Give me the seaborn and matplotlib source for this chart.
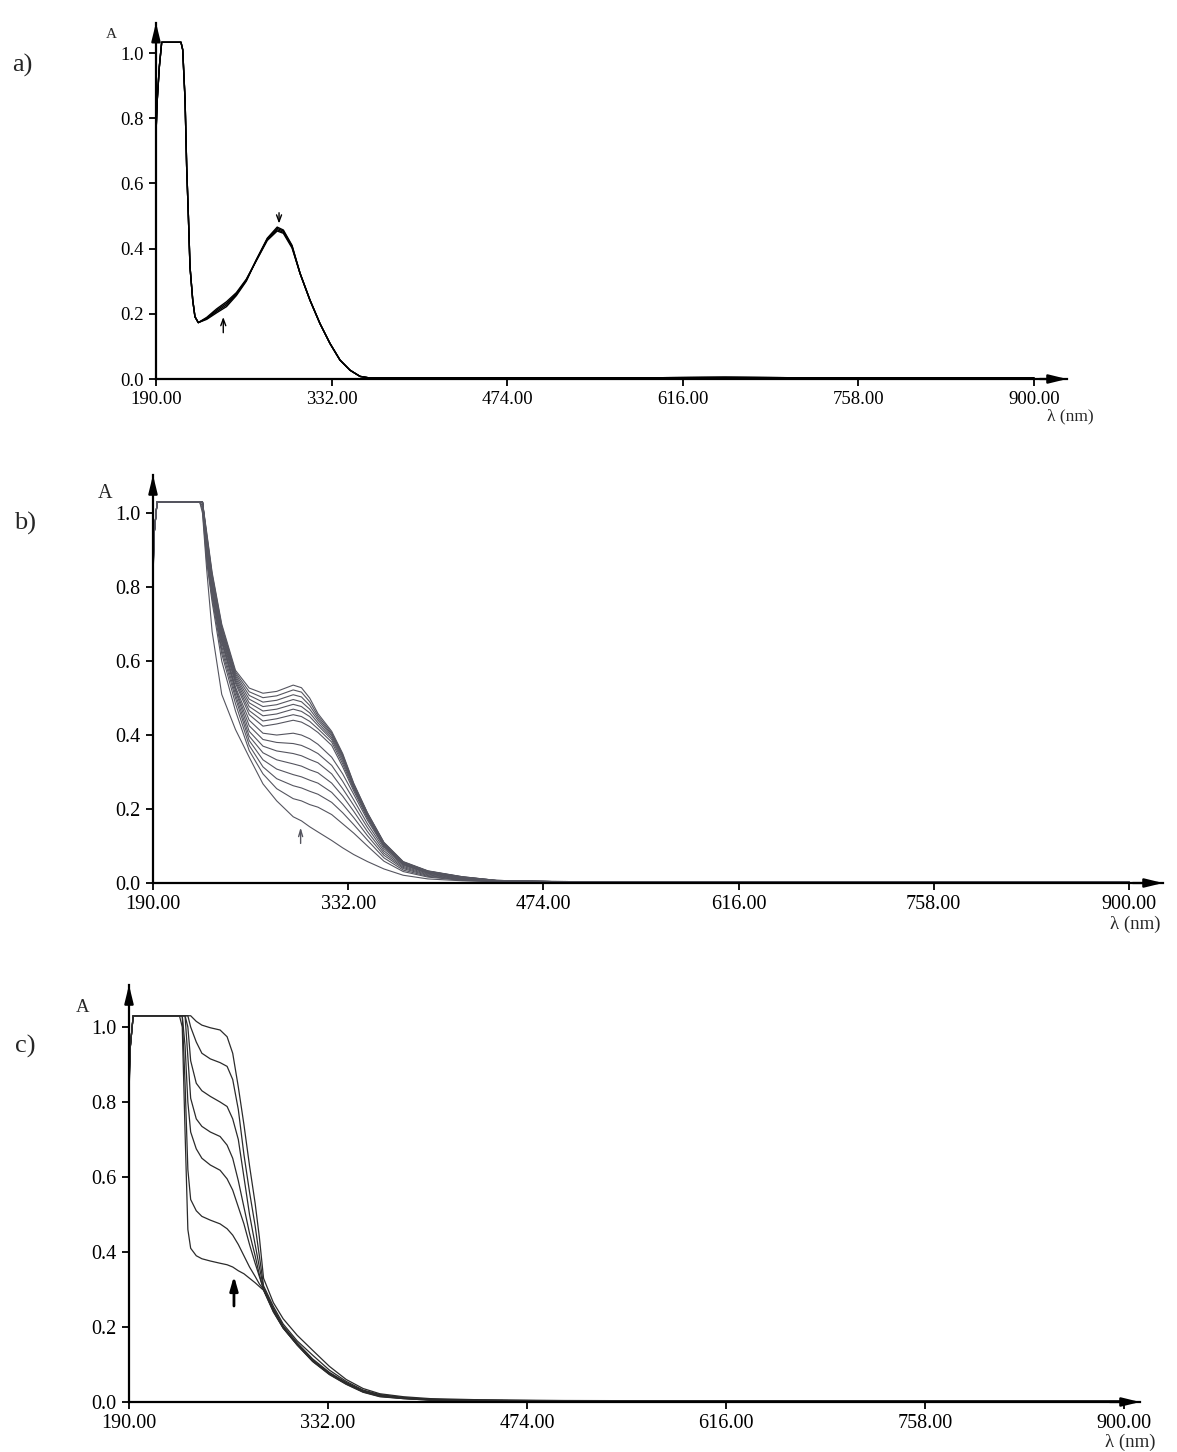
import matplotlib
matplotlib.use("Agg")
import matplotlib.pyplot as plt
import pandas as pd
import seaborn as sns

# ---------------- panel a: wavelength (nm) and absorbance, 4 overlapping scans
wl_a = [190, 191, 192.7, 194.6, 210.2, 211.6, 213.5, 214.8, 216.2, 217.5,
        219.7, 221.5, 224.2, 231, 239, 247, 255, 263, 271, 280,
        288, 293, 300, 306.5, 314.5, 322.6, 330.7, 338.8, 346.9, 355,
        363, 450, 600, 650, 750, 900]
a_scan1 = [0.754, 0.856, 0.958, 1.033, 1.033, 1.010, 0.856, 0.651, 0.498, 0.344,
           0.242, 0.191, 0.173, 0.183, 0.203, 0.222, 0.256, 0.300, 0.365, 0.432,
           0.466, 0.457, 0.410, 0.324, 0.242, 0.170, 0.109, 0.058, 0.027, 0.008,
           0.003, 0.003, 0.004, 0.005, 0.003, 0.003]
a_scan2 = [0.754, 0.856, 0.958, 1.033, 1.033, 1.010, 0.856, 0.651, 0.498, 0.344,
           0.242, 0.191, 0.173, 0.185, 0.207, 0.227, 0.259, 0.302, 0.364, 0.430,
           0.462, 0.454, 0.408, 0.324, 0.242, 0.170, 0.109, 0.058, 0.027, 0.008,
           0.003, 0.003, 0.004, 0.005, 0.003, 0.003]
a_scan3 = [0.754, 0.856, 0.958, 1.033, 1.033, 1.010, 0.856, 0.651, 0.498, 0.344,
           0.242, 0.191, 0.173, 0.187, 0.211, 0.232, 0.262, 0.304, 0.363, 0.428,
           0.458, 0.450, 0.405, 0.324, 0.242, 0.170, 0.109, 0.058, 0.027, 0.008,
           0.003, 0.003, 0.004, 0.005, 0.003, 0.003]
a_scan4 = [0.754, 0.856, 0.958, 1.033, 1.033, 1.010, 0.856, 0.651, 0.498, 0.344,
           0.242, 0.191, 0.173, 0.189, 0.215, 0.237, 0.265, 0.306, 0.362, 0.425,
           0.454, 0.447, 0.402, 0.324, 0.242, 0.170, 0.109, 0.058, 0.027, 0.008,
           0.003, 0.003, 0.004, 0.005, 0.003, 0.003]

# ---------------- panel b: 16 titration spectra
wl_b = [190, 191, 193, 224, 226, 229, 233, 240, 250, 260,
        270, 280, 292, 298, 304, 310, 320, 328, 336, 346,
        358, 372, 390, 415, 440, 480, 600, 750, 900]
b_spectra = [
    [0.86, 0.95, 1.03, 1.03, 1.03, 0.95, 0.84, 0.70, 0.575, 0.527, 0.513, 0.518, 0.535, 0.528, 0.50, 0.458, 0.41, 0.35, 0.27, 0.19, 0.11, 0.058, 0.033, 0.017, 0.007, 0.004, 0.003, 0.003, 0.003],
    [0.84, 0.95, 1.03, 1.03, 1.03, 0.945, 0.835, 0.695, 0.57, 0.517, 0.501, 0.506, 0.522, 0.516, 0.49, 0.452, 0.406, 0.347, 0.268, 0.189, 0.109, 0.057, 0.032, 0.017, 0.007, 0.004, 0.003, 0.003, 0.003],
    [0.88, 0.95, 1.03, 1.03, 1.03, 0.94, 0.83, 0.69, 0.565, 0.507, 0.489, 0.494, 0.509, 0.503, 0.48, 0.446, 0.402, 0.344, 0.266, 0.188, 0.108, 0.056, 0.032, 0.016, 0.007, 0.004, 0.003, 0.003, 0.003],
    [0.83, 0.95, 1.03, 1.03, 1.03, 0.935, 0.825, 0.685, 0.56, 0.497, 0.477, 0.482, 0.496, 0.49, 0.47, 0.44, 0.398, 0.34, 0.264, 0.186, 0.107, 0.056, 0.031, 0.016, 0.007, 0.004, 0.003, 0.003, 0.003],
    [0.87, 0.95, 1.03, 1.03, 1.03, 0.93, 0.82, 0.68, 0.555, 0.487, 0.465, 0.47, 0.483, 0.477, 0.46, 0.433, 0.393, 0.335, 0.261, 0.184, 0.106, 0.055, 0.031, 0.015, 0.006, 0.004, 0.003, 0.003, 0.003],
    [0.85, 0.95, 1.03, 1.03, 1.03, 0.925, 0.815, 0.675, 0.55, 0.477, 0.452, 0.457, 0.47, 0.464, 0.45, 0.426, 0.388, 0.329, 0.258, 0.182, 0.104, 0.054, 0.030, 0.015, 0.006, 0.004, 0.003, 0.003, 0.003],
    [0.82, 0.95, 1.03, 1.03, 1.03, 0.92, 0.81, 0.67, 0.545, 0.466, 0.438, 0.444, 0.455, 0.45, 0.437, 0.417, 0.381, 0.322, 0.254, 0.179, 0.102, 0.053, 0.029, 0.014, 0.006, 0.004, 0.003, 0.003, 0.003],
    [0.86, 0.95, 1.03, 1.03, 1.03, 0.915, 0.805, 0.665, 0.54, 0.455, 0.424, 0.43, 0.44, 0.435, 0.423, 0.407, 0.372, 0.314, 0.249, 0.175, 0.099, 0.051, 0.028, 0.014, 0.006, 0.004, 0.003, 0.003, 0.003],
    [0.84, 0.95, 1.03, 1.03, 1.03, 0.91, 0.80, 0.66, 0.53, 0.44, 0.405, 0.40, 0.405, 0.40, 0.39, 0.375, 0.34, 0.295, 0.24, 0.17, 0.098, 0.05, 0.027, 0.013, 0.005, 0.003, 0.002, 0.002, 0.002],
    [0.88, 0.95, 1.03, 1.03, 1.03, 0.905, 0.795, 0.655, 0.525, 0.425, 0.388, 0.38, 0.377, 0.372, 0.362, 0.35, 0.318, 0.275, 0.225, 0.16, 0.093, 0.048, 0.026, 0.012, 0.005, 0.003, 0.002, 0.002, 0.002],
    [0.83, 0.95, 1.03, 1.03, 1.03, 0.90, 0.79, 0.65, 0.52, 0.41, 0.37, 0.357, 0.35, 0.344, 0.334, 0.325, 0.295, 0.255, 0.21, 0.15, 0.087, 0.045, 0.024, 0.011, 0.005, 0.003, 0.002, 0.002, 0.002],
    [0.87, 0.95, 1.03, 1.03, 1.03, 0.895, 0.785, 0.64, 0.51, 0.397, 0.352, 0.333, 0.322, 0.316, 0.306, 0.298, 0.27, 0.235, 0.194, 0.139, 0.081, 0.042, 0.022, 0.010, 0.005, 0.003, 0.002, 0.002, 0.002],
    [0.85, 0.95, 1.03, 1.03, 1.02, 0.89, 0.78, 0.63, 0.50, 0.385, 0.333, 0.308, 0.293, 0.287, 0.278, 0.27, 0.245, 0.213, 0.177, 0.128, 0.075, 0.039, 0.020, 0.009, 0.004, 0.003, 0.002, 0.002, 0.002],
    [0.82, 0.95, 1.03, 1.03, 1.02, 0.88, 0.77, 0.62, 0.485, 0.372, 0.314, 0.282, 0.263, 0.257, 0.248, 0.24, 0.218, 0.19, 0.158, 0.116, 0.068, 0.035, 0.018, 0.008, 0.004, 0.003, 0.002, 0.002, 0.002],
    [0.86, 0.95, 1.03, 1.03, 1.01, 0.87, 0.76, 0.60, 0.465, 0.358, 0.295, 0.255, 0.228, 0.222, 0.212, 0.205, 0.185, 0.16, 0.135, 0.10, 0.059, 0.031, 0.016, 0.007, 0.004, 0.003, 0.002, 0.002, 0.002],
    [0.84, 0.95, 1.03, 1.03, 1.0, 0.85, 0.68, 0.51, 0.415, 0.34, 0.268, 0.222, 0.179, 0.168, 0.152, 0.138, 0.115, 0.095, 0.077, 0.058, 0.038, 0.021, 0.011, 0.006, 0.004, 0.003, 0.002, 0.002, 0.002],
]

# ---------------- panel c: 7 spectra with an isosbestic point near 286 nm
wl_c = [190, 191, 193, 226, 228, 230, 232, 234, 238, 242,
        248, 255, 260, 264, 268, 272, 276, 280, 283, 286,
        293, 300, 310, 321, 333, 345, 357, 369, 386, 405,
        440, 500, 600, 750, 900]
c_spectra = [
    [0.82, 0.95, 1.03, 1.03, 1.03, 1.03, 1.03, 1.03, 1.015, 1.005, 0.998, 0.992, 0.974, 0.93, 0.84, 0.74, 0.63, 0.53, 0.44, 0.33, 0.265, 0.222, 0.178, 0.138, 0.095, 0.06, 0.036, 0.022, 0.014, 0.009, 0.006, 0.004, 0.003, 0.002, 0.002],
    [0.86, 0.95, 1.03, 1.03, 1.03, 1.03, 1.03, 1.0, 0.96, 0.93, 0.915, 0.905, 0.895, 0.86, 0.78, 0.66, 0.56, 0.47, 0.39, 0.31, 0.255, 0.208, 0.163, 0.125, 0.085, 0.055, 0.032, 0.02, 0.012, 0.007, 0.005, 0.003, 0.003, 0.002, 0.002],
    [0.84, 0.95, 1.03, 1.03, 1.03, 1.03, 1.0, 0.91, 0.85, 0.83, 0.815, 0.80, 0.788, 0.755, 0.70, 0.60, 0.50, 0.42, 0.36, 0.305, 0.25, 0.203, 0.158, 0.115, 0.079, 0.052, 0.03, 0.018, 0.011, 0.006, 0.004, 0.003, 0.003, 0.002, 0.002],
    [0.88, 0.95, 1.03, 1.03, 1.03, 1.03, 0.92, 0.81, 0.755, 0.735, 0.72, 0.708, 0.685, 0.65, 0.59, 0.52, 0.45, 0.39, 0.34, 0.30, 0.246, 0.20, 0.155, 0.112, 0.077, 0.05, 0.029, 0.017, 0.01, 0.006, 0.004, 0.003, 0.002, 0.002, 0.002],
    [0.83, 0.95, 1.03, 1.03, 1.03, 0.95, 0.80, 0.72, 0.675, 0.65, 0.632, 0.618, 0.595, 0.565, 0.52, 0.475, 0.42, 0.37, 0.335, 0.30, 0.243, 0.198, 0.153, 0.11, 0.075, 0.049, 0.028, 0.016, 0.01, 0.006, 0.004, 0.003, 0.002, 0.002, 0.002],
    [0.87, 0.95, 1.03, 1.03, 1.03, 0.85, 0.62, 0.54, 0.51, 0.495, 0.485, 0.475, 0.462, 0.445, 0.42, 0.39, 0.36, 0.335, 0.315, 0.30, 0.242, 0.197, 0.152, 0.109, 0.074, 0.048, 0.027, 0.015, 0.009, 0.005, 0.004, 0.003, 0.002, 0.002, 0.002],
    [0.85, 0.95, 1.03, 1.03, 1.0, 0.72, 0.46, 0.41, 0.39, 0.382, 0.376, 0.37, 0.366, 0.36, 0.35, 0.342, 0.33, 0.318, 0.308, 0.298, 0.24, 0.197, 0.152, 0.108, 0.073, 0.047, 0.026, 0.014, 0.009, 0.005, 0.004, 0.003, 0.002, 0.002, 0.002],
]

x_ticks = [190, 332, 474, 616, 758, 900]
x_ticklabels = ["190.00", "332.00", "474.00", "616.00", "758.00", "900.00"]
y_ticks = [0.0, 0.2, 0.4, 0.6, 0.8, 1.0]
y_ticklabels = ["0.0", "0.2", "0.4", "0.6", "0.8", "1.0"]


def to_long(wl, curves):
    rows = []
    for i, c in enumerate(curves):
        for w, v in zip(wl, c):
            rows.append({"wl": w, "A": v, "scan": i})
    return pd.DataFrame(rows)


sns.set_theme(style="ticks")
plt.rcParams["font.family"] = ["Liberation Serif", "DejaVu Serif"]

W, H = 1177, 1452
fig = plt.figure(figsize=(W / 100, H / 100), dpi=100)

# pixel boxes: (x of 190 nm, x of arrow tip, y of A=0, y of arrow tip), axis limits, style
panels = [
    dict(box=(156, 1067, 379, 22.7), xmax=926.7, ymax=1.093, fs=13.5, afs=11, color="black",
         lw=1.0, df=to_long(wl_a, [a_scan1, a_scan2, a_scan3, a_scan4]), letter="a)",
         let_xy=(22, 65), A_xy=(111, 35), lam_xy=(1070, 416), pad=4),
    dict(box=(153, 1163, 883, 475), xmax=924.8, ymax=1.103, fs=14.5, afs=14.5, color="#55555f",
         lw=0.8, df=to_long(wl_b, b_spectra), letter="b)", let_xy=(25, 523),
         A_xy=(105, 494), lam_xy=(1135, 924), pad=4),
    dict(box=(129, 1140, 1402, 985), xmax=911.4, ymax=1.112, fs=14.5, afs=13.5, color="#2b2b2b",
         lw=0.9, df=to_long(wl_c, c_spectra), letter="c)", let_xy=(25, 1046),
         A_xy=(83, 1007), lam_xy=(1130, 1442), pad=4),
]

axes = []
for p in panels:
    x0, x1, y0, y1 = p["box"]
    ax = fig.add_axes([x0 / W, 1 - y0 / H, (x1 - x0) / W, (y0 - y1) / H])
    ax.set_facecolor("white")
    sns.lineplot(data=p["df"], x="wl", y="A", units="scan", estimator=None, sort=False,
                 color=p["color"], lw=p["lw"], ax=ax)
    ax.set_xlim(190, p["xmax"])
    ax.set_ylim(0, p["ymax"])
    ax.set_xlabel("")
    ax.set_ylabel("")
    for s in ["top", "right"]:
        ax.spines[s].set_visible(False)
    for s in ["left", "bottom"]:
        ax.spines[s].set_linewidth(1.6)
        ax.spines[s].set_color("black")
    ax.set_xticks(x_ticks)
    ax.set_xticklabels(x_ticklabels)
    ax.set_yticks(y_ticks)
    ax.set_yticklabels(y_ticklabels)
    ax.tick_params(direction="out", length=5, width=1.3, labelsize=p["fs"], pad=p["pad"],
                   colors="black")
    # arrow heads on the axes
    ax.annotate("", xy=(1, 0), xycoords="axes fraction", xytext=(0.97, 0),
                arrowprops=dict(arrowstyle="-|>,head_length=0.9,head_width=0.22", color="black",
                                lw=1.6, shrinkA=0, shrinkB=0), annotation_clip=False)
    ax.annotate("", xy=(0, 1), xycoords="axes fraction", xytext=(0, 0.95),
                arrowprops=dict(arrowstyle="-|>,head_length=0.9,head_width=0.22", color="black",
                                lw=1.6, shrinkA=0, shrinkB=0), annotation_clip=False)
    fig.text(p["let_xy"][0] / W, 1 - p["let_xy"][1] / H, p["letter"], fontsize=19,
             ha="center", va="center")
    fig.text(p["A_xy"][0] / W, 1 - p["A_xy"][1] / H, "A", fontsize=p["afs"],
             ha="center", va="center")
    fig.text(p["lam_xy"][0] / W, 1 - p["lam_xy"][1] / H, "λ (nm)", fontsize=p["fs"] - 1,
             ha="center", va="center")
    axes.append(ax)

# trend arrows inside the panels
ax_a, ax_b, ax_c = axes
ax_a.annotate("", xy=(244.4, 0.19), xytext=(244.4, 0.142),
              arrowprops=dict(arrowstyle="->,head_length=0.4,head_width=0.15", color="black",
                              lw=1.0, shrinkA=0, shrinkB=0))
ax_a.annotate("", xy=(289.5, 0.477), xytext=(289.5, 0.51),
              arrowprops=dict(arrowstyle="->,head_length=0.4,head_width=0.15", color="black",
                              lw=1.0, shrinkA=0, shrinkB=0))
ax_b.annotate("", xy=(297.4, 0.15), xytext=(297.4, 0.107),
              arrowprops=dict(arrowstyle="->,head_length=0.4,head_width=0.12", color="#55555f",
                              lw=1.0, shrinkA=0, shrinkB=0))
ax_c.annotate("", xy=(264.9, 0.336), xytext=(264.9, 0.256),
              arrowprops=dict(arrowstyle="-|>,head_length=0.7,head_width=0.2", color="black",
                              lw=2.0, shrinkA=0, shrinkB=0))

fig.savefig("out.png", dpi=100, facecolor="white")
